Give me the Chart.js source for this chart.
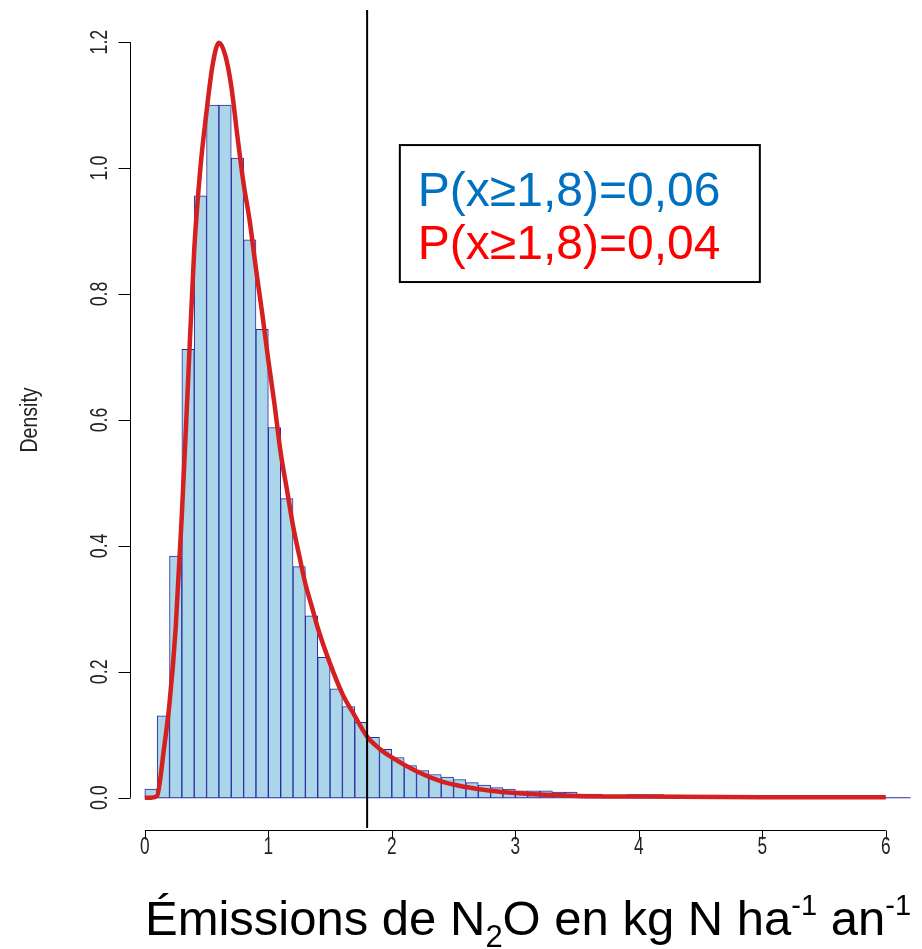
<!DOCTYPE html>
<html>
<head>
<meta charset="utf-8">
<script src="https://cdn.jsdelivr.net/npm/chart.js@4/dist/chart.umd.min.js"></script>
<style>
  html, body { margin: 0; padding: 0; background: #fff; }
  #wrap { width: 922px; height: 949px; position: relative; }
</style>
</head>
<body>
<div id="wrap"><canvas id="myChart" width="922" height="949"></canvas></div>
<script>
// histogram bins (lower edge) and densities
const BIN_START = [0.0, 0.1, 0.2, 0.3, 0.4, 0.5, 0.6, 0.7, 0.8, 0.9,
                   1.0, 1.1, 1.2, 1.3, 1.4, 1.5, 1.6, 1.7, 1.8, 1.9,
                   2.0, 2.1, 2.2, 2.3, 2.4, 2.5, 2.6, 2.7, 2.8, 2.9,
                   3.0, 3.1, 3.2, 3.3, 3.4, 3.5, 3.6, 3.7, 3.8, 3.9,
                   4.0, 4.1];
const BIN_WIDTH = 0.1;
const HIST_DENSITY = [0.014, 0.130, 0.384, 0.712, 0.956, 1.100, 1.100, 1.016, 0.886, 0.744,
                      0.588, 0.475, 0.367, 0.289, 0.223, 0.173, 0.145, 0.120, 0.096, 0.077,
                      0.064, 0.051, 0.043, 0.037, 0.033, 0.029, 0.024, 0.020, 0.016, 0.014,
                      0.011, 0.011, 0.011, 0.009, 0.009, 0.006, 0.006, 0.004, 0.004, 0.005,
                      0.005, 0.005];
const HIST_END = 6.2;

// fitted density curve
const CURVE_X = [0, 0.05, 0.1, 0.125, 0.15, 0.2, 0.25, 0.3, 0.35, 0.4, 0.45, 0.5, 0.55, 0.6,
                 0.65, 0.7, 0.75, 0.8, 0.85, 0.9, 0.95, 1.0, 1.05, 1.1, 1.15, 1.2, 1.25, 1.3,
                 1.35, 1.4, 1.5, 1.6, 1.7, 1.8, 1.9, 2.0, 2.2, 2.4, 2.6, 2.8, 3.0, 3.5, 4.0,
                 5.0, 6.0];
const CURVE_Y = [0, 0, 0.003, 0.03, 0.07, 0.15, 0.27, 0.45, 0.66, 0.87, 1.0, 1.09, 1.165, 1.199,
                 1.18, 1.13, 1.05, 0.975, 0.915, 0.84, 0.77, 0.695, 0.625, 0.548, 0.49, 0.432, 0.385, 0.34,
                 0.305, 0.27, 0.213, 0.165, 0.13, 0.097, 0.078, 0.064, 0.042, 0.026, 0.017, 0.011, 0.0075, 0.003, 0.002,
                 0.001, 0.001];

const THRESHOLD = 1.8;
const X_TICKS = [0, 1, 2, 3, 4, 5, 6];
const Y_TICKS = [0, 0.2, 0.4, 0.6, 0.8, 1.0, 1.2];
const Y_TICK_LABELS = ['0.0', '0.2', '0.4', '0.6', '0.8', '1.0', '1.2'];
const Y_LABEL = 'Density';
const PROB_LABELS = ['P(x\u22651,8)=0,06', 'P(x\u22651,8)=0,04'];
const PROB_COLORS = ['#0070C0', '#FF0000'];

const BAR_FILL = '#ABD5E8';
const BAR_BORDER = '#2a2aa0';
const CURVE_COLOR = '#D42020';
const FONT = '"Liberation Sans", Arial, sans-serif';

function makeHistData() {
    let data = [];
    for (let i = 0; i < BIN_START.length; i++) {
        data.push({x: BIN_START[i] + BIN_WIDTH / 2, y: HIST_DENSITY[i]});
    }
    return data;
}

function makeCurveData() {
    let data = [];
    for (let i = 0; i < CURVE_X.length; i++) {
        data.push({x: CURVE_X[i], y: CURVE_Y[i]});
    }
    return data;
}

// R style axes, labels and the probability box
const rAxes = {
    id: 'rAxes',
    afterDraw(chart) {
        const ctx = chart.ctx;
        const area = chart.chartArea;
        const xs = chart.scales.x;
        const ys = chart.scales.y;
        ctx.save();
        ctx.strokeStyle = '#000';
        ctx.fillStyle = '#000';
        ctx.lineWidth = 1;

        // y axis
        let ax = Math.round(area.left) + 0.5;
        ctx.beginPath();
        ctx.moveTo(ax, ys.getPixelForValue(Y_TICKS[0]));
        ctx.lineTo(ax, ys.getPixelForValue(Y_TICKS[Y_TICKS.length - 1]));
        Y_TICKS.forEach(v => {
            let py = Math.round(ys.getPixelForValue(v)) + 0.5;
            ctx.moveTo(ax, py);
            ctx.lineTo(ax - 12, py);
        });
        ctx.stroke();
        ctx.font = '24px ' + FONT;
        ctx.fillStyle = '#222';
        Y_TICKS.forEach((v, i) => {
            ctx.save();
            ctx.translate(100, ys.getPixelForValue(v));
            ctx.rotate(-Math.PI / 2);
            ctx.scale(0.74, 1);
            ctx.textAlign = 'center';
            ctx.textBaseline = 'middle';
            ctx.fillText(Y_TICK_LABELS[i], 0, 0);
            ctx.restore();
        });

        // y label
        ctx.save();
        ctx.translate(31, ys.getPixelForValue(0.6));
        ctx.rotate(-Math.PI / 2);
        ctx.scale(0.85, 1);
        ctx.font = '23px ' + FONT;
        ctx.textAlign = 'center';
        ctx.textBaseline = 'middle';
        ctx.fillText(Y_LABEL, 0, 0);
        ctx.restore();

        // x axis
        let ay = Math.round(area.bottom) + 2.5;
        ctx.beginPath();
        ctx.moveTo(xs.getPixelForValue(X_TICKS[0]), ay);
        ctx.lineTo(xs.getPixelForValue(X_TICKS[X_TICKS.length - 1]), ay);
        X_TICKS.forEach(v => {
            let px = Math.round(xs.getPixelForValue(v)) + 0.5;
            ctx.moveTo(px, ay);
            ctx.lineTo(px, ay + 9);
        });
        ctx.stroke();
        ctx.font = '24px ' + FONT;
        X_TICKS.forEach(v => {
            ctx.save();
            ctx.translate(xs.getPixelForValue(v), 847);
            ctx.scale(0.72, 1);
            ctx.textAlign = 'center';
            ctx.textBaseline = 'middle';
            ctx.fillText(String(v), 0, 0);
            ctx.restore();
        });

        // x title with sub / superscripts
        ctx.fillStyle = '#000';
        const parts = [
            ['\u00C9missions de N', 49, 0],
            ['2', 31, 12],
            ['O en kg N ha', 49, 0],
            ['-1', 29, -20],
            [' an', 49, 0],
            ['-1', 29, -20]
        ];
        let total = 0;
        parts.forEach(p => { ctx.font = p[1] + 'px ' + FONT; total += ctx.measureText(p[0]).width; });
        let tx = 528 - total / 2;
        ctx.textAlign = 'left';
        ctx.textBaseline = 'alphabetic';
        parts.forEach(p => {
            ctx.font = p[1] + 'px ' + FONT;
            ctx.fillText(p[0], tx, 935 + p[2]);
            tx += ctx.measureText(p[0]).width;
        });

        // probability box
        let bx0 = xs.getPixelForValue(2.065), bx1 = xs.getPixelForValue(4.98);
        let by0 = ys.getPixelForValue(1.0365), by1 = ys.getPixelForValue(0.819);
        ctx.fillStyle = '#fff';
        ctx.fillRect(bx0, by0, bx1 - bx0, by1 - by0);
        ctx.lineWidth = 2;
        ctx.strokeRect(bx0, by0, bx1 - bx0, by1 - by0);
        ctx.font = '48px ' + FONT;
        PROB_LABELS.forEach((t, i) => {
            ctx.fillStyle = PROB_COLORS[i];
            ctx.fillText(t, bx0 + 18, by0 + 61 + i * 53);
        });
        ctx.restore();
    }
};

function makeChart() {
    let ctx = document.getElementById('myChart').getContext('2d');
    let hist_data = makeHistData();
    let curve_data = makeCurveData();
    return new Chart(ctx, {
        type: 'bar',
        data: {
            datasets: [{
                type: 'line',
                label: 'seuil',
                data: [{x: THRESHOLD, y: -0.05}, {x: THRESHOLD, y: 1.26}],
                borderColor: '#000',
                borderWidth: 2,
                pointRadius: 0,
                order: 0
            },
            {
                type: 'line',
                label: 'densité',
                data: curve_data,
                borderColor: CURVE_COLOR,
                borderWidth: 4.5,
                pointRadius: 0,
                cubicInterpolationMode: 'monotone',
                order: 1
            },
            {
                type: 'line',
                label: 'base',
                data: [{x: BIN_START[0], y: 0}, {x: HIST_END, y: 0}],
                borderColor: BAR_BORDER,
                borderWidth: 1,
                pointRadius: 0,
                order: 2
            },
            {
                type: 'bar',
                label: 'histogramme',
                data: hist_data,
                backgroundColor: BAR_FILL,
                borderColor: BAR_BORDER,
                borderWidth: 1,
                barPercentage: 1,
                categoryPercentage: 1,
                order: 3
            }]
        },
        options: {
            responsive: false,
            animation: false,
            devicePixelRatio: 1,
            layout: { padding: { left: 130, top: 10, right: 0, bottom: 121 } },
            plugins: { legend: { display: false }, tooltip: { enabled: false } },
            scales: {
                x: {
                    type: 'linear',
                    min: -0.12,
                    max: 6.293,
                    offset: false,
                    ticks: { display: false },
                    grid: { display: false, drawTicks: false },
                    border: { display: false }
                },
                y: {
                    type: 'linear',
                    min: -0.048,
                    max: 1.251,
                    ticks: { display: false },
                    grid: { display: false, drawTicks: false },
                    border: { display: false }
                }
            }
        },
        plugins: [rAxes]
    });
}

let my_chart = makeChart();
</script>
</body>
</html>
